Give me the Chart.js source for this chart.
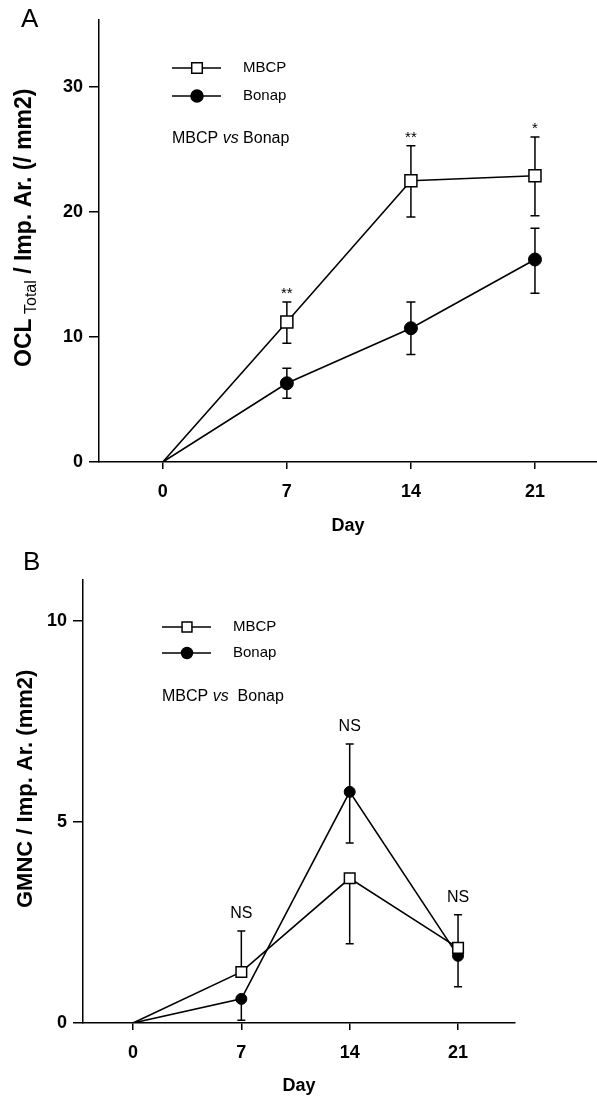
<!DOCTYPE html>
<html>
<head>
<meta charset="utf-8">
<script src="https://cdn.jsdelivr.net/npm/chart.js@4.4.1/dist/chart.umd.min.js"></script>
<style>
  html, body { margin: 0; padding: 0; background: #fff; overflow: hidden; }
  canvas { position: absolute; left: 0; }
  #chartA { top: 0; }
  #chartB { top: 545px; }
</style>
</head>
<body>
<canvas id="chartA" width="597" height="545"></canvas>
<canvas id="chartB" width="597" height="553"></canvas>
<script>
const days = [0, 7, 14, 21];
const dayTicks = [0, 7, 14, 21];
const seriesNames = ['MBCP', 'Bonap'];

// panel A : OCL total
const mbcpA = [0, 11.2, 22.5, 22.9];
const mbcpA_hi = [null, 12.8, 25.3, 26.0];
const mbcpA_lo = [null, 9.5, 19.6, 19.7];
const bonapA = [0, 6.3, 10.7, 16.2];
const bonapA_hi = [null, 7.5, 12.8, 18.7];
const bonapA_lo = [null, 5.1, 8.6, 13.5];
const sigA = ['', '**', '**', '*'];
const yTicksA = [0, 10, 20, 30];

// panel B : GMNC
const mbcpB = [0, 1.27, 3.6, 1.87];
const mbcpB_hi = [null, 2.29, null, 2.69];
const mbcpB_lo = [null, null, 1.97, null];
const bonapB = [0, 0.6, 5.75, 1.67];
const bonapB_hi = [null, null, 6.94, null];
const bonapB_lo = [null, 0.07, 4.48, 0.9];
const sigB = ['', 'NS', 'NS', 'NS'];
const yTicksB = [0, 5, 10];

const FONT = "'Liberation Sans', Arial, Helvetica, sans-serif";

// error bars, drawn under the markers
const errorBars = {
  id: 'errorBars',
  beforeDatasetsDraw(chart, args, opts) {
    const ctx = chart.ctx;
    const xs = chart.scales.x, ys = chart.scales.y;
    ctx.save();
    ctx.strokeStyle = '#000';
    ctx.lineWidth = 1.5;
    opts.errs.forEach((e, di) => {
      const vals = chart.data.datasets[di].data;
      vals.forEach((p, i) => {
        const x = xs.getPixelForValue(p.x);
        const y = ys.getPixelForValue(p.y);
        [e.hi[i], e.lo[i]].forEach(v => {
          if (v === null) return;
          const yv = ys.getPixelForValue(v);
          ctx.beginPath();
          ctx.moveTo(x, y);
          ctx.lineTo(x, yv);
          ctx.moveTo(x - opts.cap, yv);
          ctx.lineTo(x + opts.cap, yv);
          ctx.stroke();
        });
      });
    });
    ctx.restore();
  }
};

// legend, labels, significance marks, rotated y title
const decorations = {
  id: 'decorations',
  afterDraw(chart, args, o) {
    const ctx = chart.ctx;
    const ca = chart.chartArea;
    const xs = chart.scales.x, ys = chart.scales.y;
    ctx.save();
    ctx.fillStyle = '#000';
    ctx.strokeStyle = '#000';

    // panel letter
    ctx.font = '26px ' + FONT;
    ctx.textAlign = 'left';
    ctx.textBaseline = 'alphabetic';
    ctx.fillText(o.letter, o.letterX, o.letterY);

    // legend
    chart.data.datasets.forEach((ds, i) => {
      const y = ca.top + o.legTop + i * o.legGap;
      const x0 = ca.left + o.legX;
      ctx.lineWidth = 1.5;
      ctx.beginPath();
      ctx.moveTo(x0, y);
      ctx.lineTo(x0 + 49, y);
      ctx.stroke();
      ctx.fillStyle = ds.pointBackgroundColor;
      Chart.helpers.drawPoint(ctx, {
        pointStyle: ds.pointStyle, radius: o.legR[i], borderWidth: 1.5, rotation: 0
      }, x0 + 25, y);
      ctx.fillStyle = '#000';
      ctx.font = '15px ' + FONT;
      ctx.textBaseline = 'middle';
      ctx.fillText(ds.label, x0 + 71, y);
    });

    // comparison line with italic vs
    let cx = ca.left + o.legX;
    const cy = ca.top + o.cmpTop;
    [[seriesNames[0] + ' ', '16px '], ['vs', 'italic 16px '], [o.cmpGap + seriesNames[1], '16px ']].forEach(([t, f]) => {
      ctx.font = f + FONT;
      ctx.fillText(t, cx, cy);
      cx += ctx.measureText(t).width;
    });

    // significance marks above the highest error bar of each day
    ctx.font = o.sigFont + FONT;
    ctx.textAlign = 'center';
    ctx.textBaseline = 'alphabetic';
    o.sig.forEach((s, i) => {
      if (!s) return;
      let top = Infinity;
      o.errs.forEach((e, di) => {
        const v = e.hi[i] !== null ? e.hi[i] : chart.data.datasets[di].data[i].y;
        top = Math.min(top, ys.getPixelForValue(v));
      });
      ctx.fillText(s, xs.getPixelForValue(days[i]), top - o.sigOff);
    });

    // y title (rotated, with optional subscript)
    ctx.translate(o.titleX, o.titleY);
    ctx.rotate(-Math.PI / 2);
    ctx.textAlign = 'left';
    let tx = 0;
    o.title.forEach(part => {
      ctx.font = part.f + FONT;
      ctx.fillText(part.t, tx, part.dy || 0);
      tx += ctx.measureText(part.t).width;
    });
    ctx.restore();
  }
};

function series(vals) {
  return days.map((d, i) => ({ x: d, y: vals[i] }));
}

function radii(r) {
  return days.map(d => (d === 0 ? 0 : r));
}

function buildPanel(id, o) {
  const tickFont = { family: FONT, size: 18, weight: 'bold' };
  return new Chart(document.getElementById(id), {
    type: 'line',
    data: {
      datasets: [
        {
          label: seriesNames[0],
          data: series(o.mbcp),
          borderColor: '#000',
          borderWidth: 1.6,
          pointStyle: 'rect',
          pointRadius: radii(o.rectR),
          pointBorderWidth: 1.5,
          pointBorderColor: '#000',
          pointBackgroundColor: '#fff',
          tension: 0
        },
        {
          label: seriesNames[1],
          data: series(o.bonap),
          borderColor: '#000',
          borderWidth: 1.6,
          pointStyle: 'circle',
          pointRadius: radii(o.circR),
          pointBorderWidth: 1,
          pointBorderColor: '#000',
          pointBackgroundColor: '#000',
          tension: 0
        }
      ]
    },
    options: {
      responsive: false,
      animation: false,
      devicePixelRatio: 1,
      layout: { autoPadding: false, padding: { top: o.top, left: 0, right: o.right, bottom: 0 } },
      plugins: {
        legend: { display: false },
        tooltip: { enabled: false },
        errorBars: { errs: o.errs, cap: o.cap },
        decorations: o.deco
      },
      scales: {
        x: {
          type: 'linear',
          min: o.xMin,
          max: o.xMax,
          afterBuildTicks: s => { s.ticks = dayTicks.map(v => ({ value: v })); },
          afterFit: s => { s.height = o.xAxisH; },
          grid: { drawOnChartArea: false, tickLength: 7, color: '#000', lineWidth: 1.5 },
          border: { color: '#000', width: 1.5 },
          ticks: { color: '#000', font: tickFont, padding: 12, maxRotation: 0 },
          title: {
            display: true, text: 'Day', color: '#000', font: tickFont,
            padding: { top: 0, bottom: o.titlePadB }
          }
        },
        y: {
          min: 0,
          max: o.yMax,
          afterBuildTicks: s => { s.ticks = o.yTicks.map(v => ({ value: v })); },
          afterFit: s => { s.width = o.left; },
          grid: { drawOnChartArea: false, tickLength: 10, color: '#000', lineWidth: 1.5 },
          border: { color: '#000', width: 1.5 },
          ticks: { color: '#000', font: tickFont, padding: 6 }
        }
      }
    },
    plugins: [errorBars, decorations]
  });
}

const errsA = [{ hi: mbcpA_hi, lo: mbcpA_lo }, { hi: bonapA_hi, lo: bonapA_lo }];
const errsB = [{ hi: mbcpB_hi, lo: mbcpB_lo }, { hi: bonapB_hi, lo: bonapB_lo }];

buildPanel('chartA', {
  mbcp: mbcpA, bonap: bonapA, errs: errsA, yTicks: yTicksA,
  yMax: 35.36, xMin: -3.6, xMax: 24.5,
  top: 20, right: 0, left: 99, xAxisH: 83, titlePadB: 8,
  rectR: 8.5, circR: 6.5, cap: 4.5,
  deco: {
    letter: 'A', letterX: 21, letterY: 27,
    legX: 73, legTop: 48, legGap: 28, legR: [7.5, 6], cmpTop: 119, cmpGap: ' ',
    sig: sigA, errs: errsA, sigFont: '15px ', sigOff: 4,
    titleX: 31, titleY: 367,
    title: [
      { t: 'OCL', f: 'bold 23px ' },
      { t: ' Total', f: '16px ', dy: 5 },
      { t: ' / Imp. Ar. (/ mm2)', f: 'bold 23px ' }
    ]
  }
});

buildPanel('chartB', {
  mbcp: mbcpB, bonap: bonapB, errs: errsB, yTicks: yTicksB,
  yMax: 11.02, xMin: -3.23, xMax: 24.68,
  top: 35, right: 82, left: 83, xAxisH: 75, titlePadB: 1,
  rectR: 7.5, circR: 5.5, cap: 4,
  deco: {
    letter: 'B', letterX: 23, letterY: 25,
    legX: 79, legTop: 47, legGap: 26, legR: [7, 5.5], cmpTop: 117, cmpGap: '  ',
    sig: sigB, errs: errsB, sigFont: '16px ', sigOff: 13,
    titleX: 32, titleY: 363,
    title: [{ t: 'GMNC / Imp. Ar. (mm2)', f: 'bold 22px ' }]
  }
});
</script>
</body>
</html>
